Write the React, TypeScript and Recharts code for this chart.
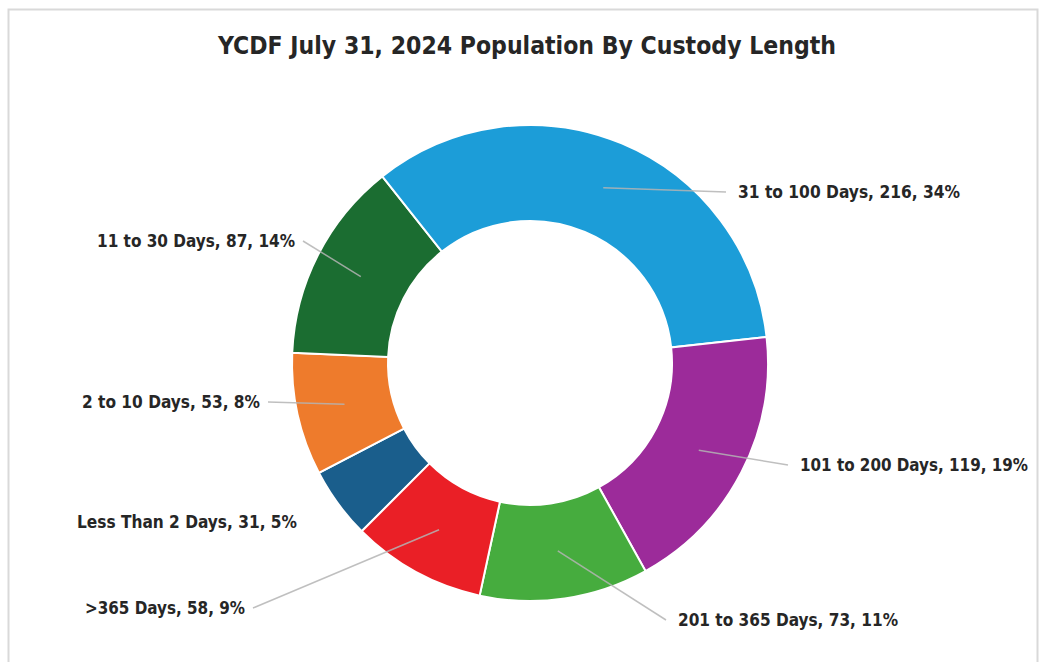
import React from "react";
import { PieChart, Pie, Cell } from "recharts";

const categories = [
  "Less Than 2 Days",
  "2 to 10 Days",
  "11 to 30 Days",
  "31 to 100 Days",
  "101 to 200 Days",
  "201 to 365 Days",
  ">365 Days",
];
const counts = [31, 53, 87, 216, 119, 73, 58];
const colors = ["#1a5e8c", "#ee7b2c", "#1b6d31", "#1c9dd8", "#9c2b9a", "#46ac3e", "#ea1f26"];

// label layout: anchor offsets from pie centre, leader visibility, text widths
const labelAnchors: [number, number][] = [
  [-225, 159],
  [-262, 39],
  [-227, -122],
  [196, -171],
  [258, 102],
  [136, 257],
  [-277, 245],
];
const showLeader = [false, true, true, true, true, true, true];
const labelWidths = [220, 178, 198, 222, 228, 220, 160];

const data = categories.map((name, i) => ({ name, value: counts[i] }));
const total = counts.reduce((a, b) => a + b, 0);

const CX = 530;
const CY = 363;
const RAD = Math.PI / 180;
const FONT = "'DejaVu Sans Condensed', 'DejaVu Sans', 'Liberation Sans', Arial, sans-serif";

const renderLabel = (props: any) => {
  const { cx, cy, midAngle, innerRadius, outerRadius, index, name, value } = props;
  const rMid = (innerRadius + outerRadius) / 2;
  const sx = cx + rMid * Math.cos(-midAngle * RAD);
  const sy = cy + rMid * Math.sin(-midAngle * RAD);
  const [dx, dy] = labelAnchors[index];
  const ax = cx + dx;
  const ay = cy + dy;
  const right = dx > 0;
  const pct = Math.round((value / total) * 100);
  return (
    <g key={`lbl-${index}`}>
      {showLeader[index] && (
        <polyline
          points={`${sx},${sy} ${ax},${ay}`}
          fill="none"
          stroke="#b4b4b4"
          strokeWidth={1.5}
          strokeOpacity={0.85}
        />
      )}
      <text
        x={right ? ax + 12 : ax - 8}
        y={ay}
        dy="0.36em"
        textAnchor={right ? "start" : "end"}
        fontFamily={FONT}
        fontWeight="bold"
        fontSize={17}
        style={{ fontStretch: "condensed" }}
        fill="#262626"
        textLength={labelWidths[index]}
        lengthAdjust="spacingAndGlyphs"
      >
        {`${name}, ${value}, ${pct}%`}
      </text>
    </g>
  );
};

export default function App() {
  return (
    <div style={{ position: "absolute", left: 0, top: 0, width: 1044, height: 662, overflow: "hidden", background: "#fff" }}>
      <svg width={1044} height={662} style={{ position: "absolute", left: 0, top: 0 }}>
        <rect x={8.5} y={9.5} width={1029} height={700} fill="#fff" stroke="#d9d9d9" strokeWidth={2} />
        <text
          x={527}
          y={54}
          textAnchor="middle"
          fontFamily={FONT}
          fontWeight="bold"
          fontSize={24}
          style={{ fontStretch: "condensed" }}
          fill="#262626"
          textLength={618}
          lengthAdjust="spacingAndGlyphs"
        >
          YCDF July 31, 2024 Population By Custody Length
        </text>
      </svg>
      <div style={{ position: "absolute", left: 0, top: 0 }}>
        <PieChart width={1044} height={662} margin={{ top: 0, right: 0, bottom: 0, left: 0 }}>
          <Pie
            data={data}
            dataKey="value"
            nameKey="name"
            cx={CX}
            cy={CY}
            innerRadius={142}
            outerRadius={238}
            startAngle={-135}
            endAngle={-495}
            stroke="#ffffff"
            strokeWidth={2}
            isAnimationActive={false}
            labelLine={false}
            label={renderLabel}
          >
            {data.map((d, i) => (
              <Cell key={d.name} fill={colors[i]} />
            ))}
          </Pie>
        </PieChart>
      </div>
    </div>
  );
}
